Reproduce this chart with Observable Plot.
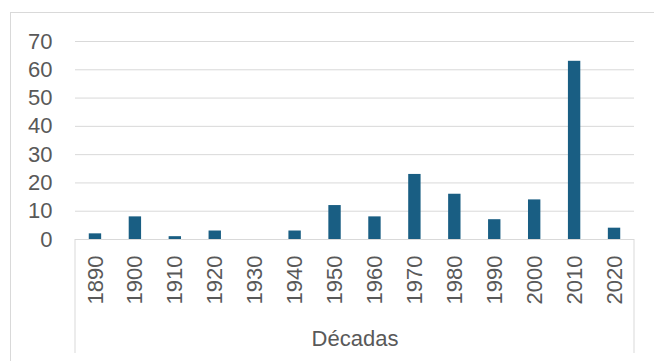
<!DOCTYPE html>
<html>
<head>
<meta charset="utf-8">
<script src="https://cdn.jsdelivr.net/npm/d3@7"></script>
<script src="https://cdn.jsdelivr.net/npm/@observablehq/plot@0.6"></script>
<style>
  html, body { margin: 0; padding: 0; background: #fff; }
  #wrap { position: relative; width: 654px; height: 361px; overflow: hidden; }
  #border { position: absolute; left: 10px; top: 12px; width: 700px; height: 400px;
            border: 1px solid #d9d9d9; box-sizing: border-box; pointer-events: none; }
  #chart svg { display: block; }
</style>
</head>
<body>
<div id="wrap">
  <div id="chart"></div>
  <div id="border"></div>
</div>
<script>
const decades = ["1890","1900","1910","1920","1930","1940","1950","1960","1970","1980","1990","2000","2010","2020"];
const counts  = [2, 8, 1, 3, 0, 3, 12, 8, 23, 16, 7, 14, 63, 4];
const yTicks  = [0, 10, 20, 30, 40, 50, 60, 70];
const gridTicks = [10, 20, 30, 40, 50, 60, 70];
const xTitle = "Décadas";

const data = decades.map((d, i) => ({decade: d, value: counts[i]}));

const categoryBox = (index, scales, values, dims) => {
  const {width, height, marginLeft, marginRight} = dims;
  const y0 = scales.y(0);
  const g = d3.create("svg:g").attr("stroke", "#d9d9d9").attr("fill", "none").attr("stroke-width", 1);
  g.append("path").attr("d", `M${marginLeft},${y0}V${height - 8}M${width - marginRight},${y0}V${height - 8}`);
  return g.node();
};

const chart = Plot.plot({
  width: 654,
  height: 361,
  marginLeft: 75,
  marginRight: 20,
  marginTop: 41,
  marginBottom: 122,
  style: {fontFamily: "'Liberation Sans', Arial, sans-serif", fontSize: "22px", color: "#595959", background: "transparent"},
  x: {domain: decades, paddingInner: 0.69, paddingOuter: 0.345, round: false},
  y: {domain: [0, 70]},
  marks: [
    Plot.ruleY(gridTicks, {stroke: "#d9d9d9", strokeWidth: 1}),
    Plot.ruleY([0], {stroke: "#d9d9d9", strokeWidth: 1}),
    categoryBox,
    Plot.barY(data, {x: "decade", y: "value", fill: "#195e83"}),
    Plot.axisY({ticks: yTicks, tickSize: 0, tickPadding: 23, label: null, fill: "#595959", fontSize: 22}),
    Plot.axisX({tickSize: 0, tickPadding: 16, tickRotate: -90, label: xTitle, labelAnchor: "center",
                labelOffset: 106, fill: "#595959", fontSize: 22})
  ]
});
document.getElementById("chart").appendChild(chart);
</script>
</body>
</html>
